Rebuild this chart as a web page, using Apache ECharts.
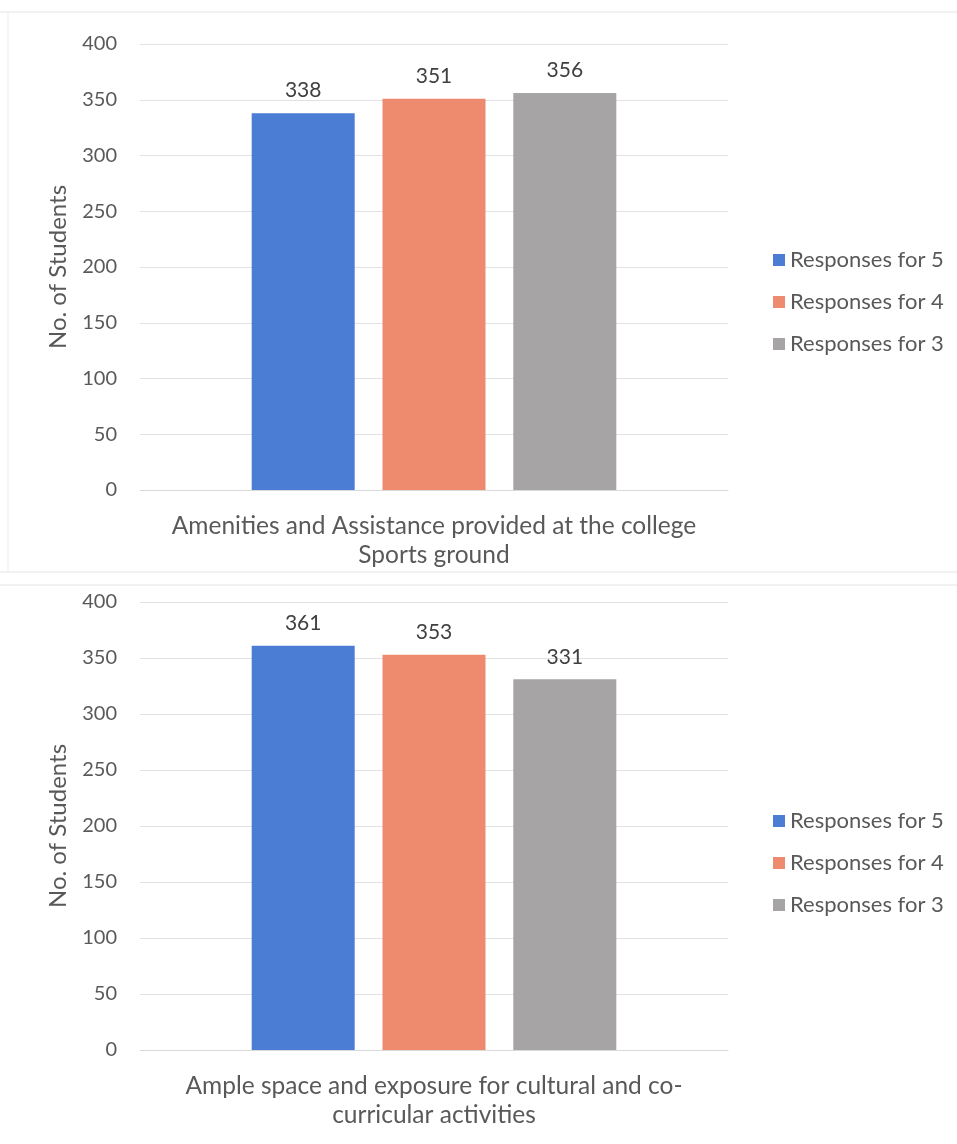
<!DOCTYPE html>
<html><head><meta charset="utf-8">
<script src="https://cdn.jsdelivr.net/npm/echarts@6/dist/echarts.min.js"></script>
<style>html,body{margin:0;padding:0;background:#fff}#c{width:957px;height:1144px}</style>
</head><body><div id="c"></div>
<script>
const seriesNames = ['Responses for 5', 'Responses for 4', 'Responses for 3'];
const colors = ['#4A7DD3', '#EE8B6F', '#A6A4A5'];
const topCategory = ['Amenities and Assistance provided at the college\nSports ground'];
const bottomCategory = ['Ample space and exposure for cultural and co-\ncurricular activities'];
const topValues = [338, 351, 356];
const bottomValues = [361, 353, 331];
const yTicks = { min: 0, max: 400, interval: 50 };

const font = 'Lato, "Open Sans", sans-serif';
const txt = '#595959';

function yAxis(gi) {
  return {
    type: 'value', gridIndex: gi, min: yTicks.min, max: yTicks.max, interval: yTicks.interval,
    name: 'No. of Students', nameLocation: 'middle', nameGap: 70, nameRotate: 90,
    nameTextStyle: { fontSize: 24, color: txt, fontFamily: font },
    axisLine: { show: false }, axisTick: { show: false },
    axisLabel: { fontSize: 20, color: txt, fontFamily: font, margin: 23 },
    splitLine: { lineStyle: { color: '#e2e2e6', width: 1 } }
  };
}
function xAxis(gi, cats) {
  return {
    type: 'category', gridIndex: gi, data: cats,
    axisLine: { lineStyle: { color: '#d9d9d9' } }, axisTick: { show: false },
    axisLabel: { fontSize: 24.5, color: txt, fontFamily: font, lineHeight: 29, margin: 22 }
  };
}
function series(gi, vals) {
  return vals.map((v, i) => ({
    type: 'bar', name: seriesNames[i], xAxisIndex: gi, yAxisIndex: gi,
    data: [v], barWidth: 103, barGap: '27%', barCategoryGap: '38%',
    itemStyle: { color: colors[i] },
    label: { show: true, position: 'top', distance: 12, fontSize: 21, color: '#404040', fontFamily: font }
  }));
}
function legend(top) {
  return {
    orient: 'vertical', left: 768, top: top, itemWidth: 12, itemHeight: 12, itemGap: 20,
    icon: 'rect', data: seriesNames,
    textStyle: { fontSize: 22, color: txt, fontFamily: font }
  };
}

const chart = echarts.init(document.getElementById('c'), null, { renderer: 'canvas' });
chart.setOption({
  animation: false,
  backgroundColor: '#ffffff',
  color: colors,
  grid: [
    { left: 140, width: 588, top: 44, height: 446 },
    { left: 140, width: 588, top: 602, height: 448 }
  ],
  legend: [legend(244), legend(805)],
  xAxis: [xAxis(0, topCategory), xAxis(1, bottomCategory)],
  yAxis: [yAxis(0), yAxis(1)],
  series: [...series(0, topValues), ...series(1, bottomValues)],
  graphic: [
    { type: 'line', shape: { x1: 0, y1: 12, x2: 957, y2: 12 }, style: { stroke: '#e4e4e4', lineWidth: 1 } },
    { type: 'line', shape: { x1: 8, y1: 12, x2: 8, y2: 572 }, style: { stroke: '#ececec', lineWidth: 1 } },
    { type: 'line', shape: { x1: 0, y1: 572, x2: 957, y2: 572 }, style: { stroke: '#e4e4e4', lineWidth: 1 } },
    { type: 'line', shape: { x1: 0, y1: 585, x2: 957, y2: 585 }, style: { stroke: '#e4e4e4', lineWidth: 1 } }
  ]
});
</script></body></html>
